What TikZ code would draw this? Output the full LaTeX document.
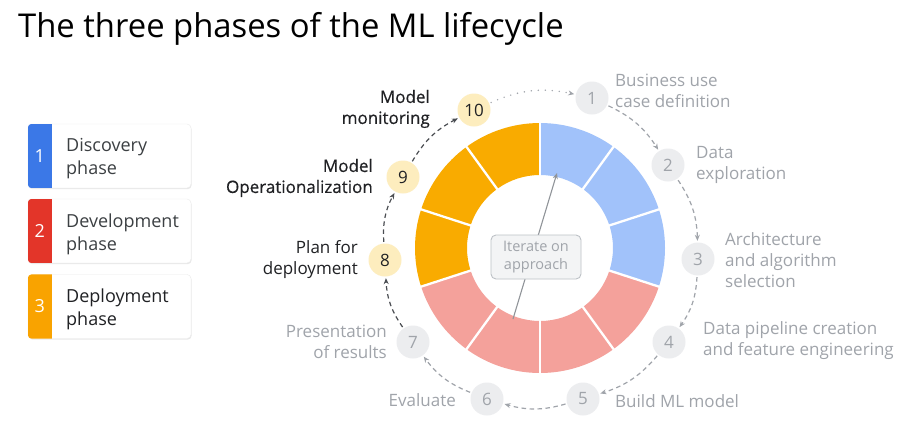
\documentclass[tikz,border=0pt]{standalone}
\usepackage{fontspec}
\setmainfont{Open Sans}
\newfontfamily\medfont{Open Sans}[FakeBold=0.5]
\usetikzlibrary{arrows.meta,shadows}
\definecolor{ringblue}{HTML}{A1C2FA}
\definecolor{ringpink}{HTML}{F4A19B}
\definecolor{ringyellow}{HTML}{F9AB00}
\definecolor{gtext}{HTML}{A0A4AA}
\definecolor{gnode}{HTML}{ECEDEF}
\definecolor{ynode}{HTML}{FDEDBE}
\definecolor{dark}{HTML}{202124}
\definecolor{darkgray}{HTML}{3C4043}
\definecolor{lnkdark}{HTML}{4A4D52}
\definecolor{stripblue}{HTML}{3B78E7}
\definecolor{stripred}{HTML}{E33529}
\definecolor{striporange}{HTML}{F9A300}
\definecolor{boxfill}{HTML}{F3F4F5}
\definecolor{boxline}{HTML}{BDC1C6}
\tikzset{
  stepnode/.style={circle, minimum size=33pt, inner sep=0pt, font=\fontsize{17}{17}\selectfont},
  graystep/.style={stepnode, fill=gnode, text=gtext},
  yelstep/.style={stepnode, fill=ynode, text=dark},
  lbl/.style={inner sep=0pt, font=\fontsize{17}{21}\selectfont, text=gtext},
  lbldark/.style={inner sep=0pt, font=\fontsize{17}{21}\selectfont, text=dark},
  lblmed/.style={inner sep=0pt, font=\fontsize{17}{21}\medfont, text=dark},
  lnk/.style={draw=gtext, line width=1.2pt, dash pattern=on 4.5pt off 3.5pt,
     -{Stealth[length=6pt,width=5pt]}, shorten >=1.5pt, shorten <=1.5pt},
  lnkd/.style={lnk, draw=lnkdark, -{Stealth[length=6pt,width=5pt,fill=lnkdark]}},
  lnkdot/.style={draw=gtext, line width=1.6pt, line cap=round, dash pattern=on 0pt off 7pt,
     -{Stealth[length=6pt,width=5pt,line cap=butt]}, shorten >=1.5pt, shorten <=2pt},
  legbox/.style={draw=black!8, fill=white, rounded corners=4pt, minimum width=163pt,
     minimum height=64pt, inner sep=0pt,
     drop shadow={opacity=0.18, shadow xshift=0.6pt, shadow yshift=-1.2pt}},
  legnum/.style={text=white, font=\fontsize{18}{18}\selectfont, inner sep=0pt},
  legtxt/.style={inner sep=0pt, align=left, font=\fontsize{18}{23}\selectfont, text=darkgray},
  iterbox/.style={draw=boxline, fill=boxfill, rounded corners=5pt, line width=0.9pt,
     minimum width=90pt, minimum height=44pt, inner sep=2pt, align=center,
     text=gtext, font=\fontsize{14.5}{18}\selectfont}
}
\begin{document}
\begin{tikzpicture}[x=1pt,y=-1pt]
\useasboundingbox (0,0) rectangle (908,445);
\fill[white] (0,0) rectangle (908,445);

% title
\node[anchor=base west, inner sep=0pt, font=\fontsize{32.8}{36}\selectfont, text=black] (title) at (18,37) {The three phases of the ML lifecycle};

% legend
\foreach \nm/\yy/\cc/\num in {L1/156/stripblue/1, L2/231/stripred/2, L3/306.5/striporange/3} {
  \node[legbox] (\nm) at (109.5,\yy) {};
  \begin{scope}
    \clip[rounded corners=4pt] (\nm.south west) rectangle (\nm.north east);
    \fill[\cc] (\nm.south west) rectangle ([xshift=24pt]\nm.north west);
  \end{scope}
  \node[legnum] at ([xshift=12pt]\nm.west) {\num};
}
\node[legtxt, anchor=west] (T1) at (66,159) {Discovery\\phase};
\node[legtxt, anchor=west] (T2) at (66,234) {Development\\phase};
\node[legtxt, anchor=west, text=dark] (T3) at (66,309.5) {Deployment\\phase};

% ring
\begin{scope}[shift={(540,248)}, y=1pt]
  \foreach \a/\c [evaluate=\a as \b using \a-36] in {90/ringblue,54/ringblue,18/ringblue,-18/ringpink,-54/ringpink,-90/ringpink,-126/ringpink,-162/ringyellow,162/ringyellow,126/ringyellow} {
    \fill[\c] (\a:125) arc[start angle=\a, end angle=\b, radius=125] -- (\b:73) arc[start angle=\b, end angle=\a, radius=73] -- cycle;
  }
  \foreach \a in {90,54,18,-18,-54,-90,-126,-162,162,126} {
    \draw[white, line width=2.3pt] (\a:72) -- (\a:126);
  }
\end{scope}

% center arrow and box
\coordinate (itb) at (513,319);
\coordinate (itt) at (557,173);
\draw[gtext!90!black, line width=1.1pt, -{Stealth[length=6pt,width=5pt]}] (itb) -- (itt);
\node[iterbox] (iter) at (536,257) {Iterate on\\approach};

% steps
\node[graystep] (n1) at (592,98) {1};
\node[graystep] (n2) at (668,165) {2};
\node[graystep] (n3) at (698,259) {3};
\node[graystep] (n4) at (669,342) {4};
\node[graystep] (n5) at (583,399) {5};
\node[graystep] (n6) at (487,399) {6};
\node[graystep] (n7) at (413,342) {7};
\node[yelstep] (n8) at (385,260) {8};
\node[yelstep] (n9) at (403,177) {9};
\node[yelstep] (n10) at (474,110) {10};

% labels
\node[lbl, anchor=west, align=left] (t1) at (615,91) {Business use\\case definition};
\node[lbl, anchor=west, align=left] (t2) at (696,165) {Data\\exploration};
\node[lbl, anchor=west, align=left] (t3) at (725,260) {Architecture\\and algorithm\\selection};
\node[lbl, anchor=west, align=left] (t4) at (703,341) {Data pipeline creation\\and feature engineering};
\node[lbl, anchor=west, align=left] (t5) at (615,401) {Build ML model};
\node[lbl, anchor=east, align=right] (t6) at (456,400) {Evaluate};
\node[lbl, anchor=east, align=right] (t7) at (387,342) {Presentation\\of results};
\node[lbldark, anchor=east, align=right] (t8) at (358,260) {Plan for\\deployment};
\node[lblmed, anchor=east, align=right] (t9) at (373,178) {Model\\Operationalization};
\node[lblmed, anchor=east, align=right] (t10) at (430,109) {Model\\monitoring};

% connectors
\draw[lnk] (n1) to[bend left=16] (n2);
\draw[lnk] (n2) to[bend left=16] (n3);
\draw[lnk] (n3) to[bend left=16] (n4);
\draw[lnk] (n4) to[bend left=16] (n5);
\draw[lnk] (n5) to[bend left=16] (n6);
\draw[lnk] (n6) to[bend left=16] (n7);
\draw[lnkd] (n7) to[bend left=16] (n8);
\draw[lnkd] (n8) to[bend left=16] (n9);
\draw[lnkd] (n9) to[bend left=16] (n10);
\draw[lnkdot] (n10) to[bend left=18] (n1);
\end{tikzpicture}
\end{document}
